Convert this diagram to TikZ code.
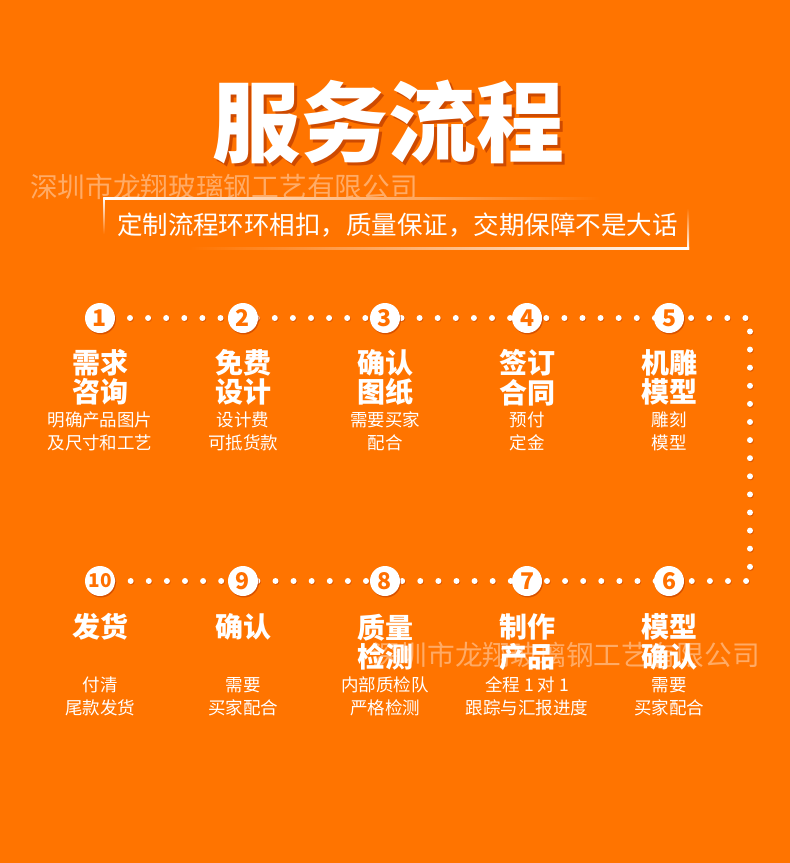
\documentclass[tikz,border=0pt]{standalone}
\usepackage{fontspec}
\setmainfont{Noto Sans CJK SC}
\usetikzlibrary{backgrounds,shadows}
\definecolor{bg}{RGB}{255,116,0}
\definecolor{shadowc}{RGB}{190,60,0}
\definecolor{numc}{RGB}{255,112,0}
\begin{document}
\begin{tikzpicture}[x=1pt,y=-1pt,
  stepcirc/.style={circle, fill=white, minimum size=30pt, inner sep=0pt,
    font=\bfseries\fontsize{23}{23}\selectfont, text=numc,
    drop shadow={shadow xshift=1pt, shadow yshift=-1.5pt, fill=shadowc, opacity=0.6}},
  head/.style={text=white, font=\bfseries\fontsize{28}{29.5}\selectfont, align=center, inner sep=0pt},
  desc/.style={text=white, font=\fontsize{17.5}{23}\selectfont, align=center, inner sep=0pt},
  wmark/.style={text=white, opacity=0.4, font=\fontsize{27.7}{27.7}\selectfont, inner sep=0pt},
  titletext/.style={font=\bfseries\fontsize{88}{88}\selectfont, inner sep=0pt},
  dotline/.style={line width=6pt, line cap=round, dash pattern=on 0pt off 18.1pt, dash phase=6.2pt}
]
\useasboundingbox (0,0) rectangle (790,863);

% title
\node[titletext, text=shadowc, opacity=0.75] (titleshadow) at (391,125.5) {服务流程};
\node[titletext, text=white] (title) at (388,122) {服务流程};

% company line
\node[wmark] (wm1) at (224,187) {深圳市龙翔玻璃钢工艺有限公司};

% subtitle frame
\shade[left color=white, right color=bg] (103.3,197.5) rectangle (600,199);
\shade[top color=white, bottom color=bg] (103.3,197.5) rectangle (104.8,234);
\shade[top color=bg, bottom color=white] (687.5,208) rectangle (689,249);
\shade[left color=bg, right color=white] (190,247.5) rectangle (689,249);
\node[text=white, font=\fontsize{25.5}{25.5}\selectfont, inner sep=0pt] (sub) at (397.5,225)
  {定制流程环环相扣，质量保证，交期保障不是大话};

% step circles
\node[stepcirc] (n1) at (100,318) {1};
\node[stepcirc] (n2) at (243,318) {2};
\node[stepcirc] (n3) at (385,318) {3};
\node[stepcirc] (n4) at (527,318) {4};
\node[stepcirc] (n5) at (669,318) {5};
\node[stepcirc] (n6) at (669,581) {6};
\node[stepcirc] (n7) at (527,581) {7};
\node[stepcirc] (n8) at (385,581) {8};
\node[stepcirc] (n9) at (243,581) {9};
\node[stepcirc, font=\bfseries\fontsize{19}{19}\selectfont] (n10) at (100,581) {10};
\coordinate (tr) at (750,318);
\coordinate (br) at (750,581);

% headings and descriptions, top row
\node[head] (h1) at (100,377.5) {需求\\咨询};
\node[desc] (d1) at (100,431.5) {明确产品图片\\及尺寸和工艺};
\node[head] (h2) at (243,377.5) {免费\\设计};
\node[desc] (d2) at (243,431.5) {设计费\\可抵货款};
\node[head] (h3) at (385,377.5) {确认\\图纸};
\node[desc] (d3) at (385,431.5) {需要买家\\配合};
\node[head] (h4) at (527,377.5) {签订\\合同};
\node[desc] (d4) at (527,431.5) {预付\\定金};
\node[head] (h5) at (669,377.5) {机雕\\模型};
\node[desc] (d5) at (669,431.5) {雕刻\\模型};

% bottom row
\node[head] (h10) at (100,627) {发货};
\node[desc] (d10) at (100,696.5) {付清\\尾款发货};
\node[head] (h9) at (243,627) {确认};
\node[desc] (d9) at (243,696.5) {需要\\买家配合};
\node[head] (h8) at (385,642) {质量\\检测};
\node[desc] (d8) at (385,696.5) {内部质检队\\严格检测};
\node[head] (h7) at (527,642) {制作\\产品};
\node[desc] (d7) at (527,696.5) {全程 1 对 1\\跟踪与汇报进度};
\node[head] (h6) at (669,642) {模型\\确认};
\node[desc] (d6) at (669,696.5) {需要\\买家配合};

% watermark over lower row
\node[wmark] (wm2) at (566,655) {深圳市龙翔玻璃钢工艺有限公司};

% background + dotted connector
\begin{scope}[on background layer]
  \fill[bg] (0,0) rectangle (790,863);
  \draw[dotline, draw=shadowc, opacity=0.5, transform canvas={shift={(0.8pt,-1pt)}}]
    (n1.center) -- (n2.center) -- (n3.center) -- (n4.center) -- (n5.center) -- (tr) -- (br)
    -- (n6.center) -- (n7.center) -- (n8.center) -- (n9.center) -- (n10.center);
  \draw[dotline, draw=white]
    (n1.center) -- (n2.center) -- (n3.center) -- (n4.center) -- (n5.center) -- (tr) -- (br)
    -- (n6.center) -- (n7.center) -- (n8.center) -- (n9.center) -- (n10.center);
\end{scope}
\end{tikzpicture}
\end{document}
